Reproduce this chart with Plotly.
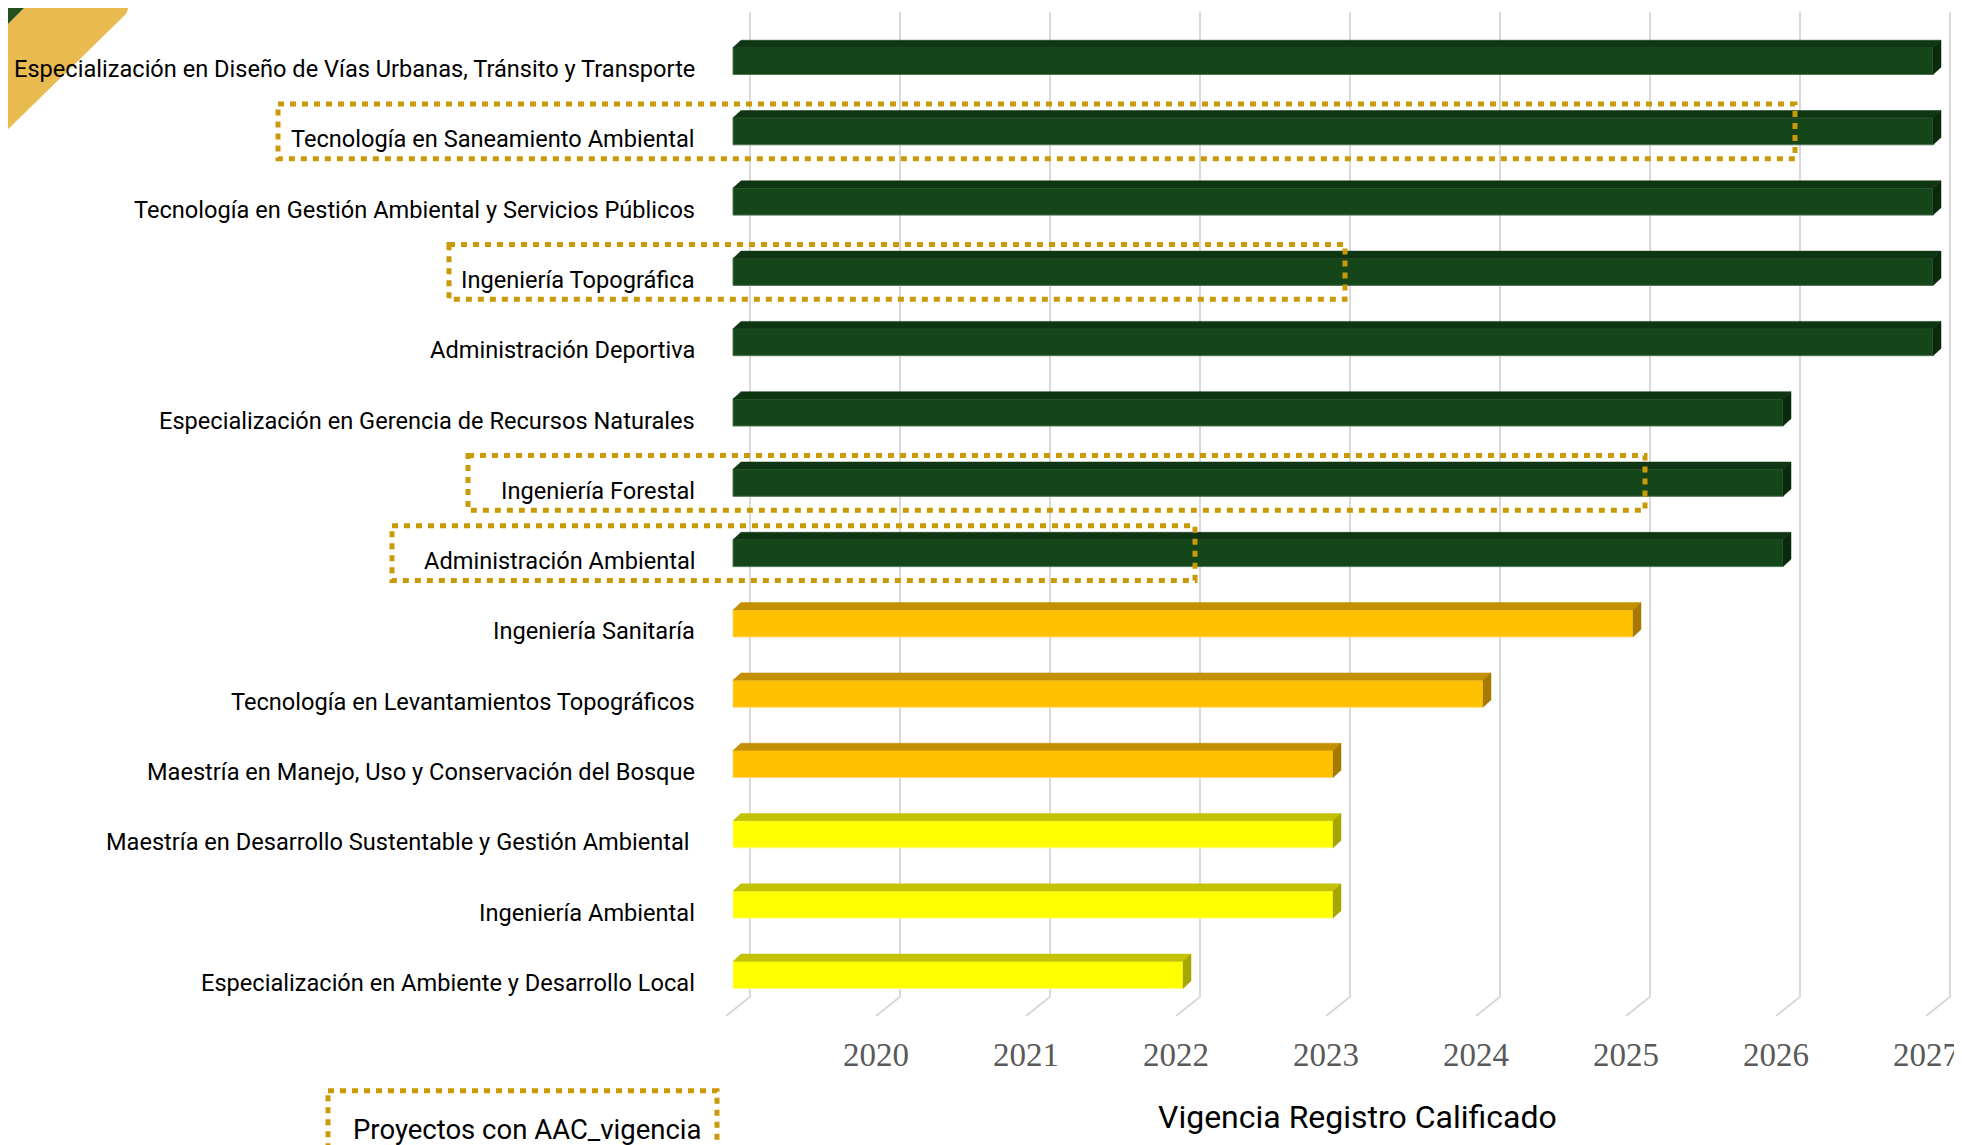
import plotly.graph_objects as go

# ---------------- data ----------------
programas = [
    "Especialización en Diseño de Vías Urbanas, Tránsito y Transporte",
    "Tecnología en Saneamiento Ambiental",
    "Tecnología en Gestión Ambiental y Servicios Públicos",
    "Ingeniería Topográfica",
    "Administración Deportiva",
    "Especialización en Gerencia de Recursos Naturales",
    "Ingeniería Forestal",
    "Administración Ambiental",
    "Ingeniería Sanitaría",
    "Tecnología en Levantamientos Topográficos",
    "Maestría en Manejo, Uso y Conservación del Bosque",
    "Maestría en Desarrollo Sustentable y Gestión Ambiental\u00a0",
    "Ingeniería Ambiental",
    "Especialización en Ambiente y Desarrollo Local",
]
vigencia = [2027, 2027, 2027, 2027, 2027, 2026, 2026, 2026, 2025, 2024, 2023, 2023, 2023, 2022]
grupo = ["verde"] * 8 + ["naranja"] * 3 + ["amarillo"] * 3

aac_programas = ["Tecnología en Saneamiento Ambiental", "Ingeniería Topográfica",
                 "Ingeniería Forestal", "Administración Ambiental"]
aac_vigencia = [2026, 2023, 2025, 2022]

anios = [2020, 2021, 2022, 2023, 2024, 2025, 2026, 2027]
anios_texto = [str(a) for a in anios]

titulo_eje = "Vigencia Registro Calificado"
leyenda_texto = "Proyectos con AAC_vigencia"

# ---------------- style / geometry (reference-pixel based) ----------------
OFF = 8                      # page body margin
REF_W, REF_H = 1962, 1145
W, H = REF_W - OFF, REF_H - OFF
PLOT_L_REF, PLOT_R_REF, PLOT_T_REF, PLOT_B_REF = OFF, 1956, OFF, 1016
AXIS_START = 2019
BASE_PX, PX_PER_YEAR = 733, 150
ROW0_PX, ROW_PX = 61, 70.3

def px2x(px):
    return AXIS_START + (px - BASE_PX) / PX_PER_YEAR

def py2y(py):
    return (py - ROW0_PX) / ROW_PX

def px2paper(px):
    return (px - PLOT_L_REF) / (PLOT_R_REF - PLOT_L_REF)

def py2paper(py):
    return (PLOT_B_REF - py) / (PLOT_B_REF - PLOT_T_REF)

COLORS = {
    "verde": dict(front="#14461A", top="#0E3613", side="#0A2A0D", edge="#4F7453"),
    "naranja": dict(front="#FFC000", top="#C49000", side="#A67A00", edge="#FFD866"),
    "amarillo": dict(front="#FFFF00", top="#C2C200", side="#A6A600", edge="#FFFF80"),
}
BAR_W = 27 / ROW_PX
DX = 8 / PX_PER_YEAR
DY = 7.3 / ROW_PX
GRID_BACK = 17 / PX_PER_YEAR
FLOOR_DX = 24 / PX_PER_YEAR
LABEL_FONT = "Roboto, Liberation Sans, sans-serif"
DOT = "#C99A06"
BOX_LEFT_PX = [278, 449, 468, 392]
AAC_PAD = 0.08
BOX_HALF = 0.39

rows = list(range(len(programas)))

fig = go.Figure()

for g, c in COLORS.items():
    idx = [i for i in rows if grupo[i] == g]
    fig.add_trace(go.Bar(
        orientation="h",
        y=[rows[i] for i in idx],
        x=[vigencia[i] - AXIS_START for i in idx],
        base=AXIS_START,
        width=BAR_W,
        marker=dict(color=c["front"], line=dict(color=c["edge"], width=1)),
        hoverinfo="skip", showlegend=False,
    ))
    tx, ty, sx, sy = [], [], [], []
    for i in idx:
        top = rows[i] - BAR_W / 2
        bot = rows[i] + BAR_W / 2
        v = vigencia[i]
        tx += [AXIS_START, v, v + DX, AXIS_START + DX, AXIS_START, None]
        ty += [top, top, top - DY, top - DY, top, None]
        sx += [v, v + DX, v + DX, v, v, None]
        sy += [top, top - DY, bot - DY, bot, top, None]
    fig.add_trace(go.Scatter(x=tx, y=ty, mode="lines", fill="toself", fillcolor=c["top"],
                             line=dict(width=0.5, color=c["top"]), hoverinfo="skip", showlegend=False))
    fig.add_trace(go.Scatter(x=sx, y=sy, mode="lines", fill="toself", fillcolor=c["side"],
                             line=dict(width=0.5, color=c["side"]), hoverinfo="skip", showlegend=False))

shapes = []
for yr in range(AXIS_START, anios[-1] + 1):
    xb = yr + GRID_BACK
    shapes.append(dict(
        type="path", xref="x", yref="y", layer="below",
        path=f"M {xb},{py2y(11.7)} L {xb},{py2y(996.7)} L {xb - FLOOR_DX},{py2y(PLOT_B_REF)}",
        line=dict(color="#D9D9D9", width=2),
    ))

for name, aac, lpx in zip(aac_programas, aac_vigencia, BOX_LEFT_PX):
    r = programas.index(name)
    shapes.append(dict(
        type="rect", xref="x", yref="y", layer="above",
        x0=px2x(lpx), x1=aac + AAC_PAD, y0=r - BOX_HALF, y1=r + BOX_HALF,
        line=dict(color=DOT, width=5, dash="6px,6px"),
    ))

shapes.append(dict(
    type="rect", xref="paper", yref="paper", layer="above",
    x0=px2paper(328), x1=px2paper(717), y0=py2paper(1090.7), y1=py2paper(1175),
    line=dict(color=DOT, width=5, dash="6px,6px"),
))

def ppath(pts):
    return "M " + " L ".join(f"{px2paper(a)},{py2paper(b)}" for a, b in pts) + " Z"

shapes.append(dict(type="path", xref="paper", yref="paper", layer="below",
                   path=ppath([(32, 0), (124, 0), (130, 4), (126, 14), (0, 137), (0, 32)]),
                   fillcolor="#E9BA50", line=dict(width=0)))
shapes.append(dict(type="path", xref="paper", yref="paper", layer="below",
                   path=ppath([(0, 0), (32, 0), (0, 32)]),
                   fillcolor="#27501F", line=dict(width=0)))

annotations = []
for i, name in enumerate(programas):
    annotations.append(dict(
        x=AXIS_START, y=rows[i], xref="x", yref="y", text=name, showarrow=False,
        xanchor="right", yanchor="middle", xshift=-36, yshift=-8,
        font=dict(family=LABEL_FONT, size=23.6, color="#000000"),
    ))
annotations.append(dict(
    x=px2paper(1357), y=py2paper(1117), xref="paper", yref="paper", text=titulo_eje,
    showarrow=False, xanchor="center", yanchor="middle",
    font=dict(family=LABEL_FONT, size=32, color="#000000"),
))
annotations.append(dict(
    x=px2paper(351), y=py2paper(1129), xref="paper", yref="paper", text=leyenda_texto,
    showarrow=False, xanchor="left", yanchor="middle",
    font=dict(family=LABEL_FONT, size=27.5, color="#000000"),
))

fig.update_layout(
    width=W, height=H, autosize=False,
    margin=dict(l=0, r=REF_W - PLOT_R_REF, t=0, b=REF_H - PLOT_B_REF, pad=0),
    paper_bgcolor="white", plot_bgcolor="white",
    barmode="overlay", showlegend=False,
    shapes=shapes, annotations=annotations,
    xaxis=dict(range=[px2x(PLOT_L_REF), px2x(PLOT_R_REF)], showgrid=False, zeroline=False, showline=False,
               tickvals=anios, ticktext=anios_texto, ticks="",
               tickfont=dict(family="Liberation Serif, DejaVu Serif, serif", size=33, color="#595959"),
               ticklabelshift=-7, ticklabelstandoff=16, fixedrange=True),
    yaxis=dict(range=[py2y(PLOT_B_REF), py2y(PLOT_T_REF)], showgrid=False, zeroline=False, showline=False,
               showticklabels=False, ticks="", fixedrange=True),
)

fig.write_html("out.html")
